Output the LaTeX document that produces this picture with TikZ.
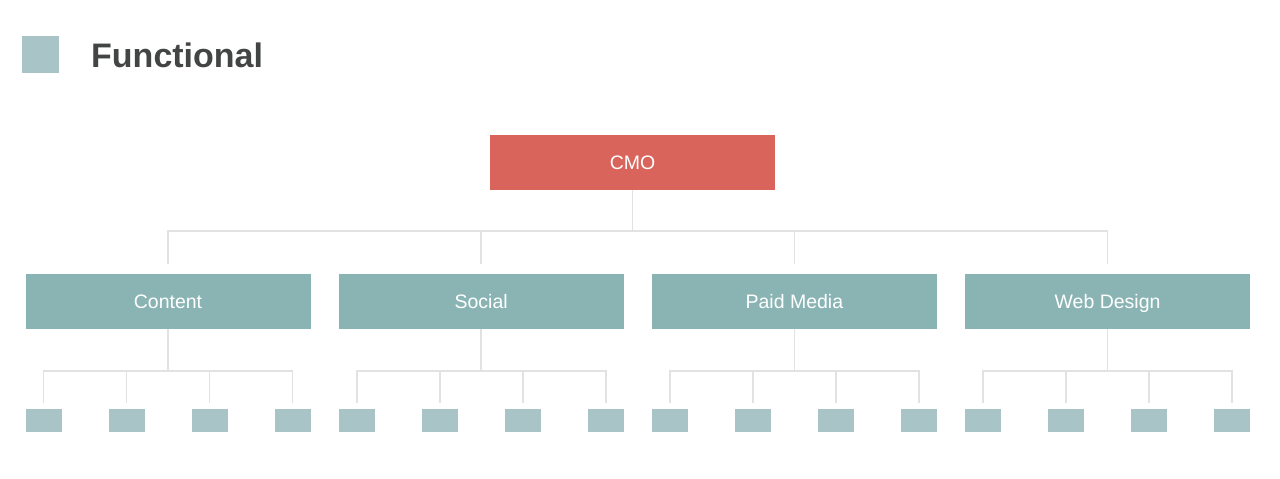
\documentclass[tikz,border=0pt]{standalone}
\usepackage{fontspec}
\setmainfont{Liberation Sans}
\usepackage{xcolor}
\usepackage{tikz}
\definecolor{cmored}{HTML}{D9645B}
\definecolor{deptteal}{HTML}{8AB4B4}
\definecolor{leafgray}{HTML}{A9C4C6}
\definecolor{linegray}{HTML}{E2E2E2}
\definecolor{titlegray}{HTML}{434545}
\tikzset{
  head node/.style={rectangle,fill=cmored,text=white,inner sep=0pt,
    minimum width=285pt,minimum height=55pt,
    font=\fontsize{19.5}{20}\selectfont,text height=14pt,text depth=0pt},
  dept node/.style={head node,fill=deptteal},
  leaf node/.style={rectangle,fill=leafgray,inner sep=0pt,minimum width=36pt,minimum height=23pt},
  link/.style={draw=linegray,line width=1.6pt}
}

\begin{document}
\begin{tikzpicture}[x=1pt,y=-1pt]
    \useasboundingbox (0,0) rectangle (1280,479);
    \node [leaf node,minimum width=37pt,minimum height=37pt] (key) at (40.5,54.5) {};
    \node [anchor=base west,inner sep=0pt,text=titlegray,font=\fontsize{34}{36}\selectfont\bfseries] (title) at (91,67) {Functional};
    \node [head node] (cmo) at (632.5,162.5) {CMO};
    \foreach \name/\txt [count=\i] in {content/Content,social/Social,paid/Paid Media,web/Web Design}{
      \node [dept node] (\name) at ({168+313.2*(\i-1)},301.5) {\txt};
      \draw [link] (cmo.south) -- ++(0,41) -| ([yshift=10pt]\name.north);
      \foreach \j in {1,...,4}{
        \node [leaf node] (\name-\j) at ({168+313.2*(\i-1)+83*\j-207.5},420.5) {};
        \draw [link] (\name.south) -- ++(0,42) -| ([yshift=6pt]\name-\j.north);
      }
    }
\end{tikzpicture}
\end{document}
